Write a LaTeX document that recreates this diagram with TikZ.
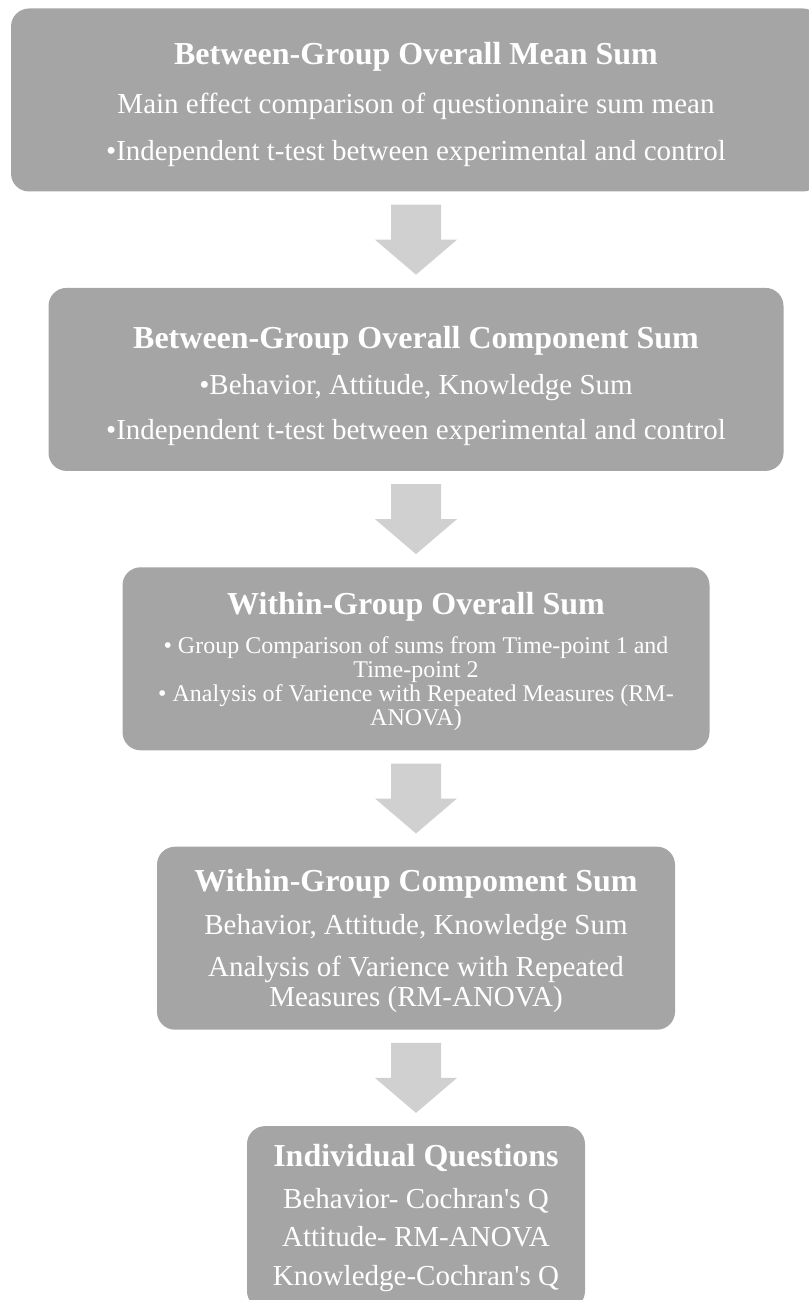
\documentclass[tikz,border=0pt]{standalone}
\usepackage{fontspec}
\setmainfont{Liberation Serif}
\usetikzlibrary{calc,positioning}
\definecolor{boxgray}{RGB}{165,165,165}
\definecolor{arrowgray}{RGB}{208,208,208}
\newcommand{\stagefont}[1]{\fontsize{#1}{#1}\selectfont\lineskiplimit-30pt\relax}
\tikzset{stagebox/.style={rounded corners=18pt, fill=boxgray, text=white, align=center,
    minimum height=183pt, inner sep=0pt, font=\stagefont{29}}}
\newcommand{\stagetitle}[2][22pt]{{\fontsize{32}{32}\selectfont\bfseries\rule{0pt}{#1}#2}}
\def\flowarrow(#1)(#2){\fill[arrowgray] ($(#1.south)+(-25pt,-13pt)$) -- ($(#1.south)+(25pt,-13pt)$) -- ($(#1.south)+(25pt,-48pt)$) -- ($(#1.south)+(41pt,-48pt)$) -- ($(#2.north)+(0,13pt)$) -- ($(#1.south)+(-41pt,-48pt)$) -- ($(#1.south)+(-25pt,-48pt)$) -- cycle;}

\begin{document}
\begin{tikzpicture}
				\useasboundingbox (0,0) rectangle (808pt,-1300pt);
				
				\node[stagebox, minimum width=810pt] (meansum) at (416pt,-100pt)
				{\stagetitle[32pt]{Between-Group Overall Mean Sum}\\[20pt]
				Main effect comparison of questionnaire sum mean\\[18pt]
				\textbullet Independent t-test between experimental and control};
				
				\node[stagebox, minimum width=735pt, below=96pt of meansum] (compsum)
				{\stagetitle[36pt]{Between-Group Overall Component Sum}\\[17pt]
				\textbullet Behavior, Attitude, Knowledge Sum\\[16pt]
				\textbullet Independent t-test between experimental and control};
				
				\node[stagebox, minimum width=587pt, below=96pt of compsum, font=\stagefont{24}] (withinsum)
				{\stagetitle[28pt]{Within-Group Overall Sum}\\[15pt]
				\textbullet{} Group Comparison of sums from Time-point 1 and\\
				Time-point 2\\
				\textbullet{} Analysis of Varience with Repeated Measures (RM-\\
				ANOVA)};
				
				\node[stagebox, minimum width=518pt, below=96pt of withinsum] (withincomp)
				{\stagetitle[27pt]{Within-Group Compoment Sum}\\[14pt]
				Behavior, Attitude, Knowledge Sum\\[13pt]
				Analysis of Varience with Repeated\\[1pt]
				Measures (RM-ANOVA)};
				
				\node[stagebox, minimum width=338pt, below=96pt of withincomp] (questions)
				{\stagetitle{Individual Questions}\\[13pt]
				Behavior- Cochran\textquotesingle s Q\\[9pt]
				Attitude- RM-ANOVA\\[10pt]
				Knowledge-Cochran\textquotesingle s Q};
				
				\flowarrow(meansum)(compsum)
				\flowarrow(compsum)(withinsum)
				\flowarrow(withinsum)(withincomp)
				\flowarrow(withincomp)(questions)
\end{tikzpicture}
\end{document}
